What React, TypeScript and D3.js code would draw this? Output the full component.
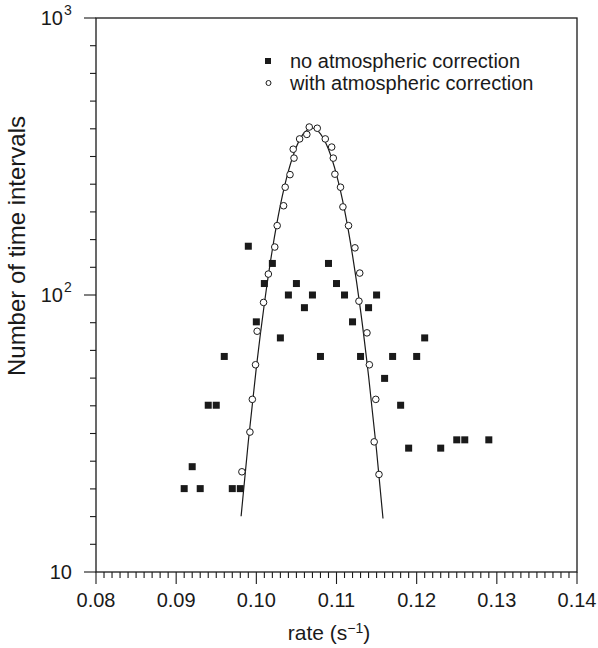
import React from "react";
import { scaleLinear, scaleLog, line as d3line, curveMonotoneX, range } from "d3";

// filled squares: no atmospheric correction
const noCorrRate = [
  0.091, 0.092, 0.093, 0.094, 0.095, 0.096, 0.097, 0.098, 0.099, 0.1, 0.101, 0.102,
  0.103, 0.104, 0.105, 0.106, 0.107, 0.108, 0.109, 0.11, 0.111, 0.112, 0.113, 0.114,
  0.115, 0.116, 0.117, 0.118, 0.119, 0.12, 0.121, 0.123, 0.125, 0.126, 0.129,
];
const noCorrCount = [
  20, 24, 20, 40, 40, 60, 20, 20, 150, 80, 110, 130,
  70, 100, 110, 90, 100, 60, 130, 110, 100, 80, 60, 90,
  100, 50, 60, 40, 28, 60, 70, 28, 30, 30, 30,
];

// open circles: with atmospheric correction
const withCorrRate = [
  0.0982, 0.0992, 0.0995, 0.0999, 0.1001, 0.1009, 0.1015, 0.1023, 0.1026, 0.1034, 0.1036,
  0.1042, 0.1046, 0.1047, 0.1054, 0.1063, 0.1066, 0.1076, 0.1086, 0.1094, 0.1096, 0.1098,
  0.1105, 0.1108, 0.1115, 0.1123, 0.1129, 0.1128, 0.1138, 0.1141, 0.1149, 0.1147, 0.1153,
];
const withCorrCount = [
  23, 32, 42, 56, 74, 94, 119, 149, 178, 210, 245,
  272, 336, 312, 366, 380, 404, 400, 366, 342, 312, 273,
  245, 208, 178, 148, 120, 95, 73, 56, 42, 29.5, 22.5,
];

// fitted curve
const fitRate = [
  0.0981, 0.099, 0.1, 0.101, 0.102, 0.103, 0.104, 0.105, 0.106, 0.107,
  0.108, 0.109, 0.11, 0.111, 0.112, 0.113, 0.114, 0.115, 0.1158,
];
const fitCount = [
  15.9, 29.6, 54.7, 93, 146, 211, 280, 343, 386, 400,
  382, 336, 272, 203, 139, 88, 51, 27.4, 15.6,
];

const xTickValues = [0.08, 0.09, 0.1, 0.11, 0.12, 0.13, 0.14];
const xTickLabels = ["0.08", "0.09", "0.10", "0.11", "0.12", "0.13", "0.14"];
const legendLabels = ["no atmospheric correction", "with atmospheric correction"];

const W = 598;
const H = 648;
const m = { left: 96, right: 577, top: 18, bottom: 572 };
const font = "'Liberation Sans', Arial, Helvetica, sans-serif";
const ink = "#1a1a1a";

export default function App() {
  const x = scaleLinear().domain([0.08, 0.14]).range([m.left, m.right]);
  const y = scaleLog().domain([10, 1000]).range([m.bottom, m.top]);

  const fit = d3line<number>()
    .x((_, i) => x(fitRate[i]))
    .y((d) => y(d))
    .curve(curveMonotoneX);

  // minor ticks: x every 0.001, y every 0.1 decade (as in the original)
  const xMinor = range(0, 61).map((i) => 0.08 + i * 0.001);
  const yMinor = range(0, 21).map((k) => Math.pow(10, 1 + k / 10));

  const sq = 7;

  return (
    <svg
      width={W}
      height={H}
      style={{ position: "absolute", left: 0, top: 0, background: "#fff" }}
      fontFamily={font}
    >
      {/* frame */}
      <rect
        x={m.left}
        y={m.top}
        width={m.right - m.left}
        height={m.bottom - m.top}
        fill="none"
        stroke={ink}
        strokeWidth={1.3}
      />

      {/* x axis ticks */}
      {xMinor.map((v, i) => (
        <line
          key={"xm" + i}
          x1={x(v)}
          x2={x(v)}
          y1={m.bottom}
          y2={m.bottom + (i % 10 === 0 ? 12 : 6)}
          stroke={ink}
          strokeWidth={1.1}
        />
      ))}
      {xTickValues.map((v, i) => (
        <text
          key={"xl" + i}
          x={x(v)}
          y={607}
          textAnchor="middle"
          fontSize={20}
          fill={ink}
        >
          {xTickLabels[i]}
        </text>
      ))}
      <text x={329} y={640} textAnchor="middle" fontSize={21} fill={ink}>
        rate (s
        <tspan dy={-7} fontSize={14}>
          −1
        </tspan>
        <tspan dy={7}>)</tspan>
      </text>

      {/* y axis ticks */}
      {yMinor.map((v, k) => (
        <line
          key={"ym" + k}
          x1={m.left}
          x2={m.left - (k % 10 === 0 ? 12 : 6)}
          y1={y(v)}
          y2={y(v)}
          stroke={ink}
          strokeWidth={1.1}
        />
      ))}
      <text x={72} y={y(10) + 7} textAnchor="end" fontSize={20} fill={ink}>
        10
      </text>
      <text x={63} y={y(100) + 7} textAnchor="end" fontSize={20} fill={ink}>
        10
      </text>
      <text x={64} y={y(100) - 3} fontSize={14} fill={ink}>
        2
      </text>
      <text x={63} y={y(1000) + 7} textAnchor="end" fontSize={20} fill={ink}>
        10
      </text>
      <text x={64} y={y(1000) - 3} fontSize={14} fill={ink}>
        3
      </text>
      <text
        transform={`translate(25,246) rotate(-90)`}
        textAnchor="middle"
        fontSize={24}
        fill={ink}
      >
        Number of time intervals
      </text>

      {/* fitted curve */}
      <path d={fit(fitCount) || ""} fill="none" stroke={ink} strokeWidth={1.2} />

      {/* open circles */}
      {withCorrRate.map((r, i) => (
        <circle
          key={"c" + i}
          cx={x(r)}
          cy={y(withCorrCount[i])}
          r={3.3}
          fill="#fff"
          stroke={ink}
          strokeWidth={1}
        />
      ))}

      {/* filled squares */}
      {noCorrRate.map((r, i) => (
        <rect
          key={"s" + i}
          x={x(r) - sq / 2}
          y={y(noCorrCount[i]) - sq / 2}
          width={sq}
          height={sq}
          fill={ink}
        />
      ))}

      {/* legend */}
      <rect x={265} y={58} width={6} height={6} fill={ink} />
      <circle cx={268.5} cy={83} r={2.5} fill="#fff" stroke={ink} strokeWidth={1} />
      <text x={290} y={68} fontSize={20} fill={ink}>
        {legendLabels[0]}
      </text>
      <text x={290} y={90} fontSize={20} fill={ink}>
        {legendLabels[1]}
      </text>
    </svg>
  );
}
